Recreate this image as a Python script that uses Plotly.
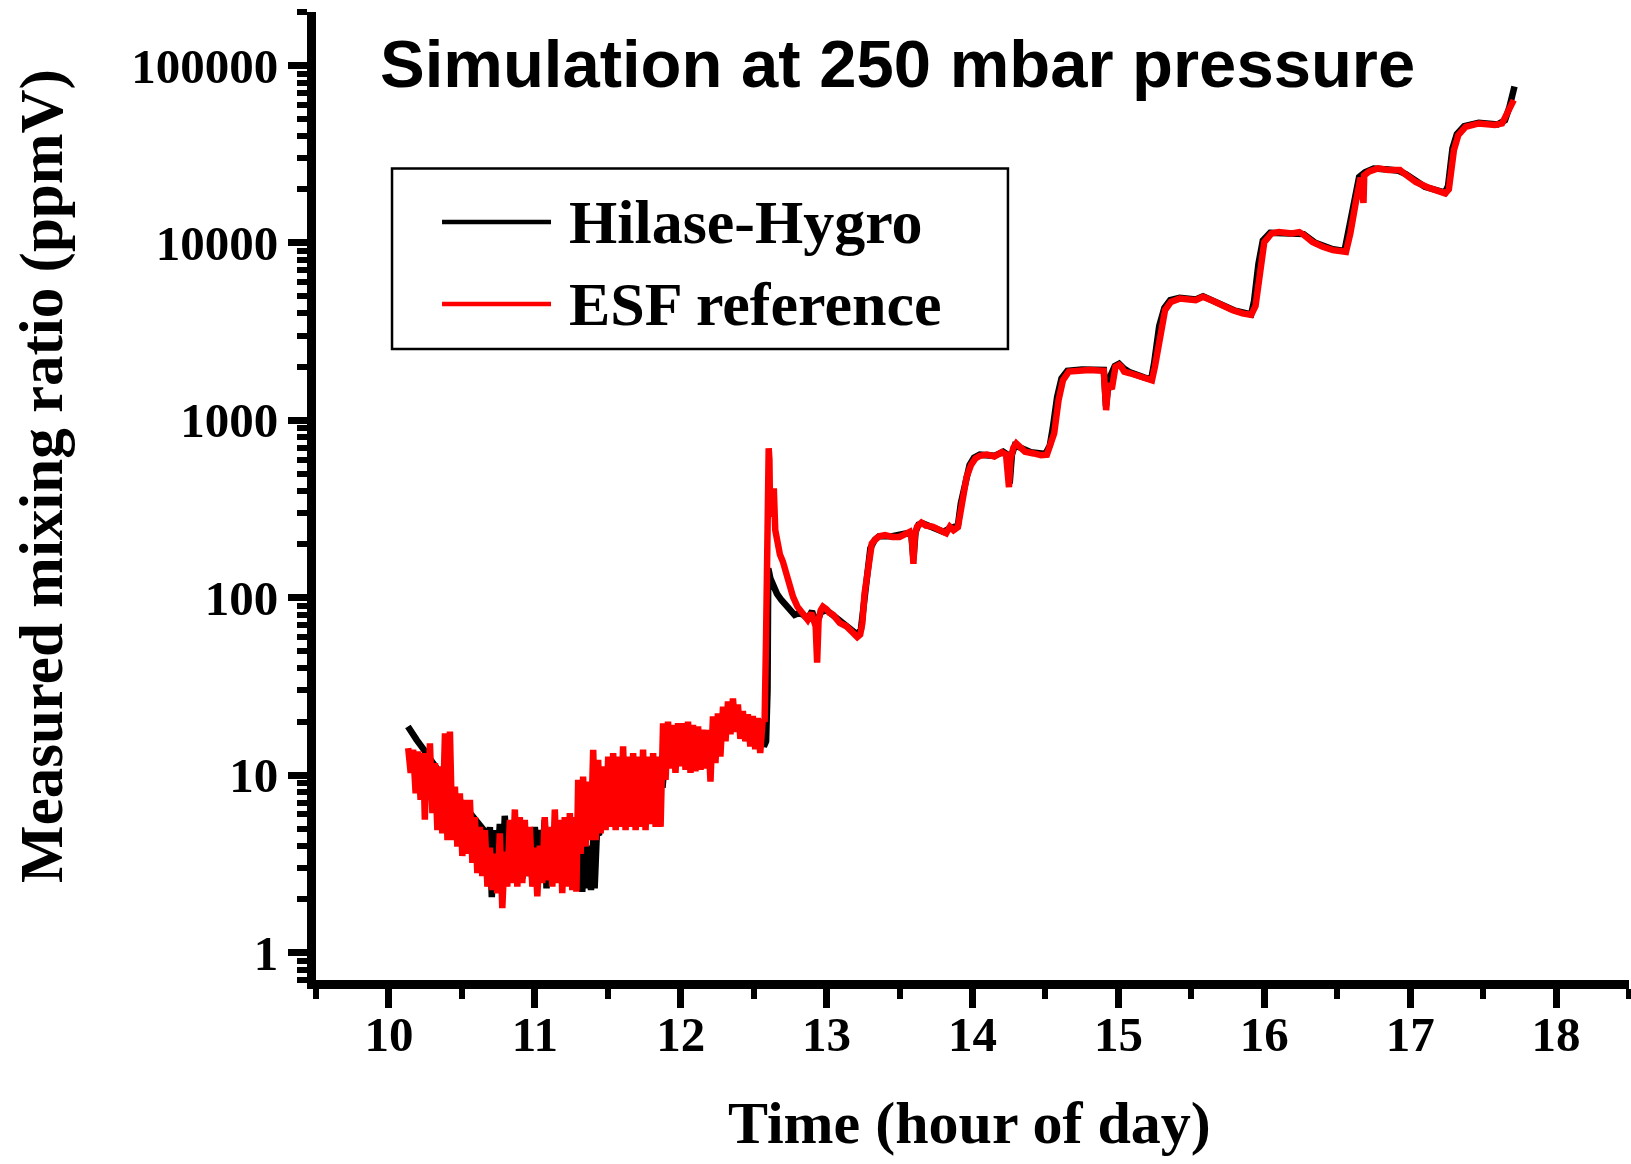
import math
import plotly.graph_objects as go

# ---- Hilase-Hygro hygrometer (black) ----
hygro_time = [
    10.130, 10.150, 10.170, 10.190, 10.210, 10.235, 10.260, 10.280, 10.300, 10.325,
    10.349, 10.370, 10.400, 10.430, 10.452, 10.480, 10.510, 10.540, 10.560, 10.590,
    10.620, 10.650, 10.675, 10.692, 10.705, 10.726, 10.743, 10.760, 10.777, 10.794,
    10.811, 10.829, 10.846, 10.863, 10.880, 10.897, 10.914, 10.931, 10.948, 10.966,
    10.983, 11.000, 11.017, 11.034, 11.051, 11.068, 11.080, 11.103, 11.120, 11.137,
    11.154, 11.171, 11.188, 11.205, 11.222, 11.240, 11.257, 11.274, 11.290, 11.310,
    11.325, 11.340, 11.355, 11.370, 11.385, 11.400, 11.410, 11.425, 11.440, 11.460,
    11.475, 11.500, 11.520, 11.540, 11.560, 11.580, 11.600, 11.620, 11.640, 11.660,
    11.680, 11.700, 11.720, 11.740, 11.760, 11.780, 11.800, 11.820, 11.840, 11.860,
    11.875, 11.890, 11.910, 11.930, 11.950, 11.970, 11.990, 12.010, 12.030, 12.050,
    12.070, 12.090, 12.110, 12.130, 12.150, 12.170, 12.190, 12.210, 12.230, 12.250,
    12.270, 12.290, 12.310, 12.330, 12.350, 12.370, 12.390, 12.410, 12.430, 12.450,
    12.470, 12.490, 12.510, 12.530, 12.550, 12.570, 12.585, 12.595, 12.600, 12.605,
    12.615, 12.630, 12.645, 12.660, 12.690, 12.720, 12.750, 12.780, 12.810, 12.840,
    12.870, 12.900, 12.930, 12.960, 13.000, 13.040, 13.090, 13.140, 13.180, 13.210,
    13.235, 13.250, 13.280, 13.300, 13.330, 13.360, 13.450, 13.540, 13.580, 13.595,
    13.610, 13.630, 13.660, 13.720, 13.800, 13.840, 13.900, 13.920, 13.950, 13.980,
    14.010, 14.050, 14.150, 14.210, 14.240, 14.255, 14.270, 14.290, 14.330, 14.400,
    14.500, 14.530, 14.550, 14.580, 14.610, 14.650, 14.750, 14.900, 14.915, 14.935,
    14.975, 15.005, 15.040, 15.080, 15.180, 15.225, 15.245, 15.280, 15.315, 15.355,
    15.420, 15.530, 15.580, 15.700, 15.800, 15.910, 15.930, 15.960, 15.990, 16.040,
    16.200, 16.270, 16.350, 16.470, 16.550, 16.580, 16.620, 16.650, 16.690, 16.750,
    16.850, 16.920, 16.970, 17.100, 17.240, 17.260, 17.290, 17.320, 17.370, 17.470,
    17.600, 17.650, 17.680, 17.710, 17.715,
]
hygro_ppmv = [
    18.8, 17.5, 16.5, 15.8, 15.0, 14.2, 13.2, 12.4, 11.7, 11.0,
    9.6, 9.2, 8.8, 8.2, 7.9, 7.3, 6.8, 6.3, 6.0, 5.6,
    5.3, 4.9, 2.6, 5.1, 2.05, 4.9, 3.0, 5.3, 2.5, 5.9,
    3.0, 4.7, 2.6, 4.4, 2.5, 4.5, 2.6, 4.3, 2.7, 4.3,
    2.5, 5.1, 3.6, 4.9, 3.5, 5.6, 2.3, 4.5, 2.6, 4.9,
    2.7, 4.3, 2.6, 4.7, 2.5, 4.5, 2.3, 4.4, 2.3, 4.1,
    2.2, 4.1, 2.3, 4.0, 2.25, 4.4, 2.3, 4.7, 4.6, 8.0,
    5.0, 10.5, 5.5, 11.0, 5.6, 11.5, 5.5, 11.0, 5.6, 11.5,
    5.5, 11.0, 5.6, 11.5, 5.5, 11.0, 5.7, 11.0, 5.6, 11.5,
    8.5, 11.0, 17.5, 11.5, 17.5, 11.8, 17.8, 11.5, 17.5, 11.5,
    17.5, 11.5, 17.0, 11.5, 16.5, 11.5, 16.5, 12.0, 19.0, 13.5,
    21.0, 16.0, 23.0, 18.0, 24.5, 18.5, 23.0, 17.0, 21.0, 16.0,
    20.0, 15.0, 19.5, 14.5, 19.0, 14.5, 15.5, 30.0, 146.0, 140.0,
    128.0, 118.0, 112.0, 105.0, 97.0, 90.0, 84.0, 80.0, 82.0, 80.0,
    76.0, 84.0, 70.0, 83.0, 85.0, 80.0, 73.0, 69.0, 64.0, 62.0,
    66.0, 85.0, 140.0, 190.0, 212.0, 222.0, 222.0, 230.0, 228.0, 165.0,
    235.0, 258.0, 262.0, 250.0, 235.0, 245.0, 255.0, 340.0, 460.0, 560.0,
    615.0, 640.0, 630.0, 665.0, 640.0, 440.0, 640.0, 720.0, 700.0, 660.0,
    645.0, 720.0, 900.0, 1350.0, 1720.0, 1900.0, 1930.0, 1920.0, 1200.0, 1700.0,
    2020.0, 2080.0, 1950.0, 1860.0, 1740.0, 1700.0, 2100.0, 3400.0, 4300.0, 4750.0,
    4900.0, 4800.0, 5000.0, 4550.0, 4150.0, 3950.0, 4700.0, 7600.0, 10300.0, 11400.0,
    11400.0, 11200.0, 10000.0, 9200.0, 9000.0, 11800.0, 17800.0, 23500.0, 25000.0, 26200.0,
    25900.0, 25500.0, 24400.0, 20700.0, 19200.0, 21000.0, 34000.0, 41000.0, 45500.0, 47500.0,
    46500.0, 49000.0, 58000.0, 70000.0, 76000.0,
]

# ---- ESF reference instrument (red) ----
esf_time = [
    10.132, 10.149, 10.166, 10.183, 10.200, 10.217, 10.235, 10.246, 10.258, 10.270,
    10.281, 10.298, 10.315, 10.332, 10.349, 10.366, 10.384, 10.401, 10.418, 10.435,
    10.452, 10.469, 10.486, 10.503, 10.521, 10.538, 10.555, 10.572, 10.589, 10.606,
    10.623, 10.640, 10.658, 10.675, 10.692, 10.709, 10.726, 10.743, 10.760, 10.777,
    10.794, 10.811, 10.829, 10.846, 10.863, 10.880, 10.897, 10.914, 10.931, 10.948,
    10.966, 10.983, 11.000, 11.017, 11.034, 11.051, 11.068, 11.085, 11.103, 11.120,
    11.137, 11.154, 11.171, 11.188, 11.205, 11.222, 11.240, 11.257, 11.274, 11.285,
    11.297, 11.314, 11.331, 11.348, 11.366, 11.383, 11.400, 11.417, 11.434, 11.451,
    11.468, 11.485, 11.503, 11.520, 11.537, 11.554, 11.571, 11.588, 11.605, 11.622,
    11.639, 11.656, 11.674, 11.691, 11.708, 11.725, 11.742, 11.759, 11.776, 11.793,
    11.811, 11.828, 11.845, 11.862, 11.879, 11.896, 11.913, 11.930, 11.947, 11.964,
    11.982, 11.999, 12.016, 12.033, 12.050, 12.067, 12.084, 12.101, 12.119, 12.136,
    12.153, 12.170, 12.187, 12.204, 12.221, 12.238, 12.255, 12.272, 12.290, 12.307,
    12.324, 12.341, 12.358, 12.375, 12.392, 12.409, 12.426, 12.443, 12.460, 12.477,
    12.494, 12.511, 12.528, 12.545, 12.562, 12.575, 12.585, 12.595, 12.603, 12.608,
    12.613, 12.625, 12.638, 12.648, 12.660, 12.680, 12.700, 12.735, 12.770, 12.800,
    12.840, 12.870, 12.895, 12.910, 12.925, 12.935, 12.945, 12.960, 12.975, 13.000,
    13.020, 13.045, 13.070, 13.090, 13.135, 13.180, 13.210, 13.230, 13.245, 13.260,
    13.290, 13.310, 13.340, 13.360, 13.400, 13.450, 13.500, 13.540, 13.570, 13.585,
    13.595, 13.605, 13.620, 13.650, 13.680, 13.730, 13.780, 13.820, 13.845, 13.870,
    13.900, 13.930, 13.960, 13.990, 14.020, 14.050, 14.100, 14.150, 14.200, 14.230,
    14.250, 14.260, 14.280, 14.300, 14.330, 14.360, 14.420, 14.470, 14.510, 14.530,
    14.560, 14.590, 14.620, 14.660, 14.730, 14.800, 14.900, 14.916, 14.930, 14.955,
    14.980, 15.005, 15.020, 15.040, 15.080, 15.150, 15.200, 15.230, 15.250, 15.290,
    15.320, 15.360, 15.420, 15.530, 15.580, 15.650, 15.720, 15.780, 15.850, 15.910,
    15.940, 15.980, 16.000, 16.050, 16.100, 16.190, 16.240, 16.270, 16.330, 16.400,
    16.470, 16.560, 16.590, 16.630, 16.660, 16.680, 16.685, 16.720, 16.780, 16.850,
    16.900, 16.930, 16.970, 17.040, 17.130, 17.240, 17.265, 17.300, 17.330, 17.380,
    17.470, 17.580, 17.630, 17.670, 17.710,
]
esf_ppmv = [
    14.2, 10.3, 13.9, 7.9, 13.6, 7.25, 13.3, 5.6, 12.7, 7.25,
    15.1, 6.1, 11.7, 4.9, 11.2, 4.7, 17.2, 4.3, 17.6, 4.3,
    8.6, 3.95, 7.9, 3.5, 7.25, 3.6, 7.25, 3.2, 5.8, 2.8,
    5.1, 2.7, 4.9, 2.35, 3.9, 2.25, 3.6, 2.16, 4.7, 1.78,
    3.7, 2.35, 5.6, 2.46, 6.4, 2.35, 5.8, 2.46, 5.6, 2.7,
    5.1, 2.35, 3.9, 2.07, 4.0, 2.46, 5.8, 2.55, 5.1, 2.35,
    6.4, 2.46, 5.6, 2.16, 5.8, 2.35, 6.1, 2.25, 5.8, 2.2,
    9.4, 3.6, 9.8, 3.95, 9.2, 4.3, 13.9, 4.3, 12.2, 4.7,
    11.2, 4.9, 12.7, 5.1, 13.3, 4.9, 12.7, 5.1, 14.5, 4.9,
    12.7, 5.1, 13.3, 4.9, 12.7, 5.1, 13.9, 4.9, 12.7, 5.3,
    13.3, 5.1, 12.7, 5.1, 19.6, 9.4, 20.0, 10.9, 19.2, 10.3,
    19.6, 11.2, 19.6, 10.7, 20.0, 10.3, 19.2, 10.5, 18.8, 10.7,
    18.0, 10.9, 18.0, 9.2, 21.4, 11.7, 22.3, 12.7, 24.3, 15.5,
    26.0, 17.0, 27.0, 17.5, 25.0, 16.0, 23.0, 15.5, 22.0, 14.5,
    21.5, 14.0, 21.0, 13.3, 20.5, 20.0, 60.0, 400.0, 695.0, 600.0,
    286.0, 390.0, 413.0, 240.0, 200.0, 175.0, 160.0, 126.0, 101.0, 89.0,
    82.0, 75.0, 82.0, 72.0, 69.0, 43.0, 75.0, 85.0, 89.0, 86.0,
    82.0, 80.0, 75.0, 72.0, 69.0, 63.0, 60.0, 62.0, 72.0, 105.0,
    155.0, 202.0, 215.0, 222.0, 225.0, 220.0, 220.0, 231.0, 235.0, 215.0,
    155.0, 225.0, 251.0, 265.0, 255.0, 251.0, 240.0, 231.0, 251.0, 240.0,
    250.0, 370.0, 480.0, 560.0, 610.0, 630.0, 640.0, 625.0, 660.0, 640.0,
    420.0, 600.0, 700.0, 740.0, 690.0, 665.0, 650.0, 635.0, 640.0, 700.0,
    844.0, 1300.0, 1680.0, 1880.0, 1920.0, 1920.0, 1900.0, 1140.0, 1600.0, 1500.0,
    2000.0, 2050.0, 2000.0, 1880.0, 1840.0, 1760.0, 1720.0, 1680.0, 2000.0, 3220.0,
    4180.0, 4650.0, 4850.0, 4750.0, 4960.0, 4700.0, 4400.0, 4180.0, 4000.0, 3920.0,
    4400.0, 7330.0, 10100.0, 11300.0, 11500.0, 11300.0, 11500.0, 11100.0, 10100.0, 9500.0,
    9100.0, 8900.0, 11300.0, 17400.0, 23300.0, 16800.0, 24000.0, 25300.0, 26300.0, 25700.0,
    25400.0, 25700.0, 24200.0, 22000.0, 20400.0, 19000.0, 20000.0, 33300.0, 40500.0, 45000.0,
    47100.0, 46200.0, 47100.0, 55000.0, 63700.0,
]

series_names = ["Hilase-Hygro", "ESF reference"]
series_colors = ["#000000", "#ff0000"]

x_tick_vals = [10, 11, 12, 13, 14, 15, 16, 17, 18]
x_tick_text = ["10", "11", "12", "13", "14", "15", "16", "17", "18"]
y_tick_vals = [1, 10, 100, 1000, 10000, 100000]
y_tick_text = ["1", "10", "100", "1000", "10000", "100000"]
x_range = [9.5, 18.5]
y_range = [0.7, 200000]

chart_title = "Simulation at 250 mbar pressure"
x_title = "Time (hour of day)"
y_title = "Measured mixing ratio (ppmV)"

SERIF = "Liberation Serif, Times New Roman, serif"
SANS = "Liberation Sans, Arial, sans-serif"

fig = go.Figure()
fig.add_trace(go.Scatter(
    x=hygro_time, y=hygro_ppmv, mode="lines", name=series_names[0],
    line=dict(color=series_colors[0], width=6.5), showlegend=False,
))
fig.add_trace(go.Scatter(
    x=esf_time, y=esf_ppmv, mode="lines", name=series_names[1],
    line=dict(color=series_colors[1], width=6.5), showlegend=False,
))

tick_font = dict(family=SERIF, size=49, color="black", weight="bold")

fig.update_xaxes(
    range=x_range, tickmode="array", tickvals=x_tick_vals, ticktext=x_tick_text,
    showline=True, linewidth=9, linecolor="black", mirror=False,
    ticks="outside", ticklen=19, tickwidth=7, tickcolor="black",
    ticklabelstandoff=-16,
    minor=dict(ticks="outside", dtick=0.5, tick0=9.5, ticklen=10, tickwidth=6,
               tickcolor="black", showgrid=False),
    showgrid=False, zeroline=False, tickfont=tick_font,
)
fig.update_yaxes(
    type="log", range=[math.log10(y_range[0]), math.log10(y_range[1])],
    tickmode="array", tickvals=y_tick_vals, ticktext=y_tick_text,
    showline=True, linewidth=9, linecolor="black", mirror=False,
    ticks="outside", ticklen=19, tickwidth=7, tickcolor="black",
    minor=dict(ticks="outside", dtick="D1", ticklen=10, tickwidth=6,
               tickcolor="black", showgrid=False),
    showgrid=False, zeroline=False, tickfont=tick_font,
)

# Legend panel drawn in paper coordinates
legend_box = dict(x0=0.0579, x1=0.5270, y0=0.6519, y1=0.8384)
legend_rows_y = [0.7831, 0.6983]
legend_line_x = [0.0960, 0.1790]
legend_text_x = 0.1912

shapes = [dict(type="rect", xref="paper", yref="paper", **legend_box,
               line=dict(color="black", width=2.5), fillcolor="white", layer="above")]
annotations = []
for name, color, ly in zip(series_names, series_colors, legend_rows_y):
    shapes.append(dict(type="line", xref="paper", yref="paper",
                       x0=legend_line_x[0], x1=legend_line_x[1], y0=ly, y1=ly,
                       line=dict(color=color, width=4.5), layer="above"))
    annotations.append(dict(xref="paper", yref="paper", x=legend_text_x, y=ly,
                            xanchor="left", yanchor="middle", text=name, showarrow=False,
                            font=dict(family=SERIF, size=62, color="black", weight="bold")))

annotations.append(dict(xref="paper", yref="paper", x=0.4429, y=0.9463,
                        xanchor="center", yanchor="middle", text=chart_title, showarrow=False,
                        font=dict(family=SANS, size=67, color="black", weight="bold")))
annotations.append(dict(xref="paper", yref="paper", x=0.498, y=-0.1477,
                        xanchor="center", yanchor="middle", text=x_title, showarrow=False,
                        font=dict(family=SERIF, size=60, color="black", weight="bold")))
annotations.append(dict(xref="paper", yref="paper", x=-0.2087, y=0.5207,
                        xanchor="center", yanchor="middle", text=y_title, showarrow=False,
                        textangle=-90,
                        font=dict(family=SERIF, size=61, color="black", weight="bold")))

fig.update_layout(
    width=1631, height=1164,
    margin=dict(l=316, r=2, t=12, b=184),
    paper_bgcolor="white", plot_bgcolor="white",
    shapes=shapes, annotations=annotations,
    showlegend=False,
)

fig.write_html("out.html")
